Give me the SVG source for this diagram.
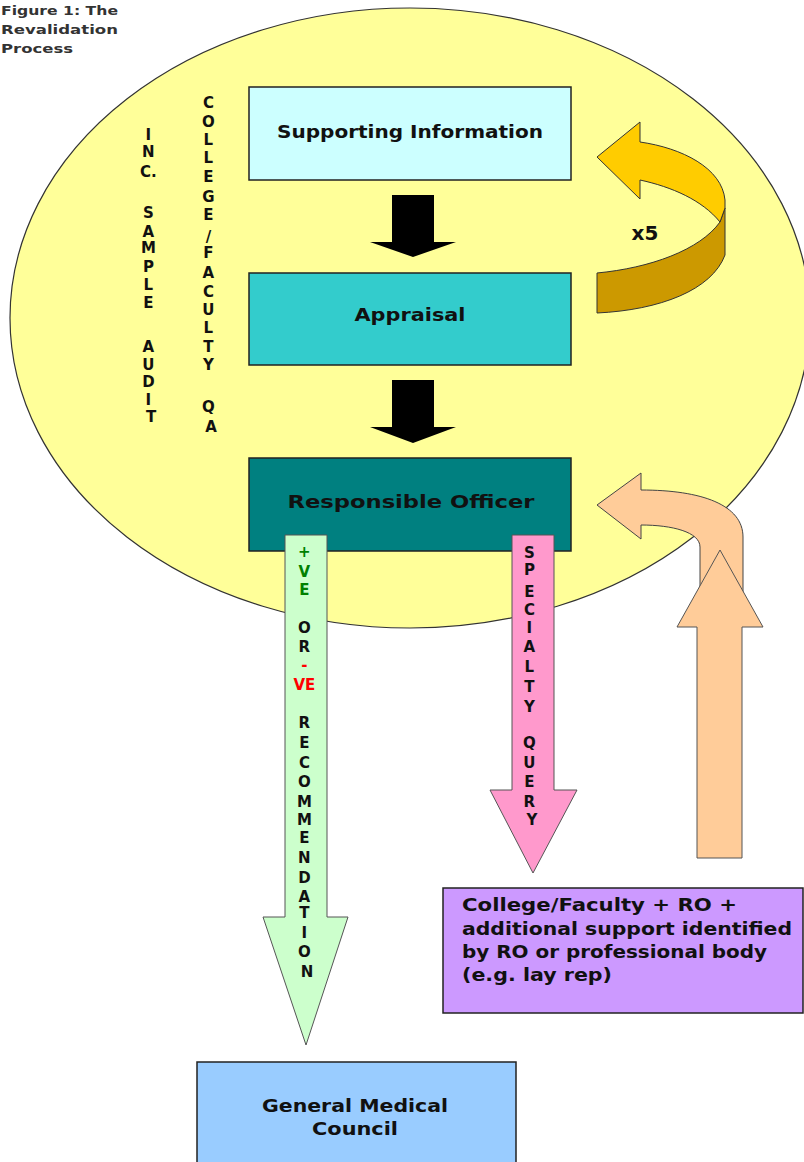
<svg xmlns="http://www.w3.org/2000/svg" width="804" height="1162" viewBox="0 0 804 1162">
<style>
.box{stroke:#222;stroke-width:1.5}
.lbl{font-family:"DejaVu Sans","Liberation Sans",sans-serif;font-weight:bold;font-size:17px;fill:#111}
.col{font-family:"DejaVu Sans","Liberation Sans",sans-serif;font-weight:bold;font-size:15px;fill:#111;text-anchor:middle}
.title{font-family:"DejaVu Sans","Liberation Sans",sans-serif;font-weight:bold;font-size:13px;fill:#333}
.arr{stroke:#555;stroke-width:1}
</style>
<rect width="804" height="1162" fill="#fff"/>
<g id="title">
<text class="title" x="1" y="15" textLength="117" lengthAdjust="spacingAndGlyphs">Figure 1: The</text>
<text class="title" x="1" y="34" textLength="117" lengthAdjust="spacingAndGlyphs">Revalidation</text>
<text class="title" x="1" y="53" textLength="72" lengthAdjust="spacingAndGlyphs">Process</text>
</g>
<g id="background">
<ellipse cx="410" cy="318" rx="400" ry="310" fill="#FFFF99" stroke="#333" stroke-width="1.2"/>
</g>
<g id="connectors">
<path id="arrow-si-app" d="M392,195 L434,195 L434,242 L456,242 L413,257 L370,242 L392,242 Z" fill="#000"/>
<path id="arrow-app-ro" d="M392,380 L434,380 L434,427 L456,427 L413,443 L370,427 L392,427 Z" fill="#000"/>
<g id="loop-x5">
<path d="M720,222 L725,208 L725,255 C712,290 660,310 597,313 L597,273 C650,268 700,250 720,222 Z" fill="#CC9900" stroke="#333" stroke-width="1"/>
<path d="M597,157 L640,122 L640,142 C682,148 722,168 725,200 L725,208 L720,222 C702,200 672,187 640,180 L640,199 Z" fill="#FFCC00" stroke="#333" stroke-width="1"/>
<text x="645" y="240" text-anchor="middle" font-family="DejaVu Sans, Liberation Sans, sans-serif" font-weight="bold" font-size="20" fill="#111">x5</text>
</g>
<g id="feedback-arrow">
<path d="M597,505 L641,473 L641,490 C702,490 743,505 743,537 L743,620 L700,620 L700,547 C700,532 672,525 641,525 L641,539 Z" fill="#FFCC99" stroke="#444" stroke-width="1"/>
<path d="M697,858 L697,627 L677,627 L720,550 L763,627 L742,627 L742,858 Z" fill="#FFCC99" stroke="#555" stroke-width="1"/>
</g>
</g>
<g id="supporting-information">
<rect class="box" x="249" y="87" width="322" height="93" fill="#CCFFFF"/>
<text class="lbl" x="410" y="138" text-anchor="middle" textLength="266" lengthAdjust="spacingAndGlyphs">Supporting Information</text>
</g>
<g id="appraisal">
<rect class="box" x="249" y="273" width="322" height="92" fill="#33CCCC"/>
<text class="lbl" x="410" y="321" text-anchor="middle" textLength="111" lengthAdjust="spacingAndGlyphs">Appraisal</text>
</g>
<g id="responsible-officer">
<rect class="box" x="249" y="458" width="322" height="93" fill="#008080"/>
<text class="lbl" x="411" y="508" text-anchor="middle" textLength="247" lengthAdjust="spacingAndGlyphs">Responsible Officer</text>
</g>
<g id="recommendation-arrow">
<path class="arr" d="M285,535 L327,535 L327,917 L348,917 L306,1045 L263,917 L285,917 Z" fill="#CCFFCC"/>
<text class="col">
<tspan x="307" y="557" fill="#008000">+</tspan>
<tspan x="307" y="577" fill="#008000">V</tspan>
<tspan x="307" y="595" fill="#008000">E</tspan>
<tspan x="307" y="633">O</tspan>
<tspan x="307" y="652">R</tspan>
<tspan x="307" y="670" fill="#FF0000">-</tspan>
<tspan x="307" y="690" fill="#FF0000">VE</tspan>
<tspan x="307" y="728">R</tspan>
<tspan x="307" y="748">E</tspan>
<tspan x="307" y="768">C</tspan>
<tspan x="307" y="787">O</tspan>
<tspan x="307" y="807">M</tspan>
<tspan x="307" y="825">M</tspan>
<tspan x="307" y="843">E</tspan>
<tspan x="307" y="863">N</tspan>
<tspan x="307" y="883">D</tspan>
<tspan x="307" y="902">A</tspan>
<tspan x="307" y="918">T</tspan>
<tspan x="307" y="938">I</tspan>
<tspan x="307" y="957">O</tspan>
<tspan x="307" y="977">N</tspan>
</text>
</g>
<g id="specialty-query-arrow">
<path class="arr" d="M512,535 L554,535 L554,790 L577,790 L533,873 L490,790 L512,790 Z" fill="#FF99CC"/>
<text class="col">
<tspan x="532" y="558">S</tspan>
<tspan x="532" y="575">P</tspan>
<tspan x="532" y="597">E</tspan>
<tspan x="532" y="615">C</tspan>
<tspan x="532" y="633">I</tspan>
<tspan x="532" y="652">A</tspan>
<tspan x="532" y="672">L</tspan>
<tspan x="532" y="692">T</tspan>
<tspan x="532" y="712">Y</tspan>
<tspan x="532" y="748">Q</tspan>
<tspan x="532" y="768">U</tspan>
<tspan x="532" y="787">E</tspan>
<tspan x="532" y="807">R</tspan>
<tspan x="532" y="825">Y</tspan>
</text>
</g>
<g id="inc-sample-audit">
<text class="col">
<tspan x="151" y="140">I</tspan>
<tspan x="151" y="157">N</tspan>
<tspan x="151" y="177">C.</tspan>
<tspan x="151" y="218">S</tspan>
<tspan x="151" y="237">A</tspan>
<tspan x="151" y="253">M</tspan>
<tspan x="151" y="272">P</tspan>
<tspan x="151" y="290">L</tspan>
<tspan x="151" y="308">E</tspan>
<tspan x="151" y="352">A</tspan>
<tspan x="151" y="370">U</tspan>
<tspan x="151" y="387">D</tspan>
<tspan x="151" y="405">I</tspan>
<tspan x="151" y="422">T</tspan>
</text>
</g>
<g id="college-faculty-qa">
<text class="col">
<tspan x="211" y="108">C</tspan>
<tspan x="211" y="127">O</tspan>
<tspan x="211" y="145">L</tspan>
<tspan x="211" y="163">L</tspan>
<tspan x="211" y="182">E</tspan>
<tspan x="211" y="202">G</tspan>
<tspan x="211" y="220">E</tspan>
<tspan x="211" y="242">/</tspan>
<tspan x="211" y="258">F</tspan>
<tspan x="211" y="278">A</tspan>
<tspan x="211" y="297">C</tspan>
<tspan x="211" y="315">U</tspan>
<tspan x="211" y="333">L</tspan>
<tspan x="211" y="352">T</tspan>
<tspan x="211" y="370">Y</tspan>
<tspan x="211" y="412">Q</tspan>
<tspan x="211" y="432">A</tspan>
</text>
</g>
<g id="college-faculty-ro">
<rect class="box" x="443" y="888" width="360" height="125" fill="#CC99FF"/>
<text class="lbl" x="462" y="911" textLength="275" lengthAdjust="spacingAndGlyphs">College/Faculty + RO +</text>
<text class="lbl" x="462" y="935" textLength="330" lengthAdjust="spacingAndGlyphs">additional support identified</text>
<text class="lbl" x="462" y="958" textLength="305" lengthAdjust="spacingAndGlyphs">by RO or professional body</text>
<text class="lbl" x="462" y="981" textLength="150" lengthAdjust="spacingAndGlyphs">(e.g. lay rep)</text>
</g>
<g id="general-medical-council">
<rect class="box" x="197" y="1062" width="319" height="110" fill="#99CCFF"/>
<text class="lbl" x="355" y="1112" text-anchor="middle" textLength="186" lengthAdjust="spacingAndGlyphs">General Medical</text>
<text class="lbl" x="355" y="1135" text-anchor="middle" textLength="86" lengthAdjust="spacingAndGlyphs">Council</text>
</g>
</svg>
